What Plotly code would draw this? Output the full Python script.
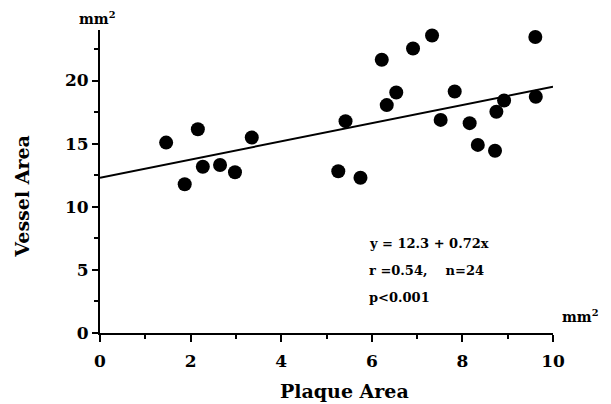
import plotly.graph_objects as go

plaque_area = [1.46, 2.16, 1.87, 2.27, 2.65, 2.98, 3.35,
               5.42, 5.26, 5.75, 6.22, 6.33, 6.54, 6.91, 7.33, 7.52,
               7.83, 8.16, 8.34, 8.72, 8.75, 8.92, 9.61, 9.62]
vessel_area = [15.08, 16.14, 11.78, 13.17, 13.31, 12.73, 15.48,
               16.78, 12.81, 12.30, 21.64, 18.05, 19.05, 22.54, 23.57, 16.88,
               19.13, 16.62, 14.90, 14.44, 17.52, 18.41, 23.44, 18.71]
intercept = 12.3
slope = 0.72
fit_x = [0, 10]
fit_y = [intercept + slope * v for v in fit_x]
x_ticks = [0, 2, 4, 6, 8, 10]
y_ticks = [0, 5, 10, 15, 20]

FONT = "DejaVu Serif"

fig = go.Figure()
fig.add_trace(go.Scatter(x=fit_x, y=fit_y, mode="lines",
                         line=dict(color="black", width=2), hoverinfo="skip"))
fig.add_trace(go.Scatter(x=plaque_area, y=vessel_area, mode="markers",
                         marker=dict(color="black", size=14), cliponaxis=False))

fig.update_layout(
    width=611, height=404,
    margin=dict(l=92, r=66, t=22, b=79),
    paper_bgcolor="white", plot_bgcolor="white",
    showlegend=False,
    font=dict(family=FONT, color="black", size=16),
    xaxis=dict(range=[0, 10], tickvals=x_ticks, showgrid=False, zeroline=False,
               showline=True, linecolor="black", linewidth=2,
               ticks="outside", ticklen=7, tickwidth=2, tickcolor="black",
               ticklabelstandoff=5,
               minor=dict(dtick=1, ticks="outside", ticklen=4, tickwidth=2, tickcolor="black"),
               tickfont=dict(family=FONT, size=17, weight="bold")),
    yaxis=dict(range=[0, 24], tickvals=y_ticks, showgrid=False, zeroline=False,
               showline=True, linecolor="black", linewidth=2,
               ticks="outside", ticklen=6, tickwidth=2, tickcolor="black",
               minor=dict(dtick=2.5, ticks="outside", ticklen=4, tickwidth=2, tickcolor="black"),
               tickfont=dict(family=FONT, size=17, weight="bold")),
)

ann_font = dict(family=FONT, size=13, color="black", weight="bold")
fig.add_annotation(text="y = 12.3 + 0.72x", x=5.89, y=7.11, xref="x", yref="y",
                   showarrow=False, xanchor="left", yanchor="middle", font=ann_font)
fig.add_annotation(text="r =0.54,    n=24", x=5.89, y=4.97, xref="x", yref="y",
                   showarrow=False, xanchor="left", yanchor="middle", font=ann_font)
fig.add_annotation(text="p<0.001", x=5.89, y=2.83, xref="x", yref="y",
                   showarrow=False, xanchor="left", yanchor="middle", font=ann_font)

lab_font = dict(family=FONT, size=19, color="black", weight="bold")
fig.add_annotation(text="Plaque Area", x=0.54, y=-0.193, xref="paper", yref="paper",
                   showarrow=False, xanchor="center", yanchor="middle", font=lab_font)
fig.add_annotation(text="Vessel Area", x=-0.173, y=0.452, xref="paper", yref="paper",
                   showarrow=False, xanchor="center", yanchor="middle", textangle=-90, font=lab_font)
unit_font = dict(family=FONT, size=14, color="black", weight="bold")
fig.add_annotation(text="mm<sup>2</sup>", x=-0.007, y=1.04, xref="paper", yref="paper",
                   showarrow=False, xanchor="center", yanchor="middle", font=unit_font)
fig.add_annotation(text="mm<sup>2</sup>", x=1.06, y=0.055, xref="paper", yref="paper",
                   showarrow=False, xanchor="center", yanchor="middle", font=unit_font)

fig.write_html("out.html")
